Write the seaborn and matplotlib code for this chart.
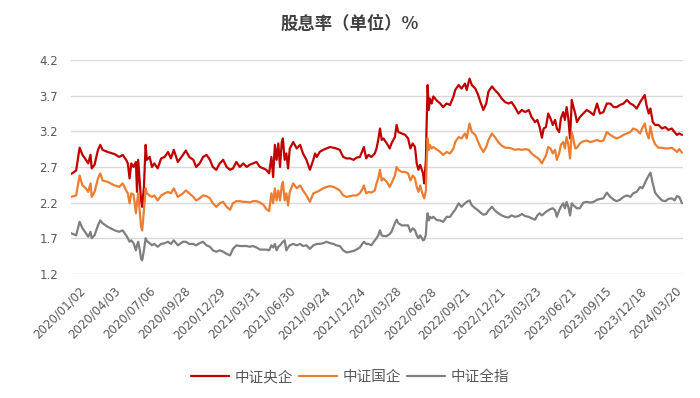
import numpy as np
import pandas as pd
import matplotlib
matplotlib.use('Agg')
import matplotlib.pyplot as plt
from matplotlib.transforms import ScaledTranslation
import seaborn as sns

# trading-day index of each sampled point (0 = 2020/01/02)
day = [0, 9, 15, 20, 26, 30, 34, 36, 41, 47, 51, 55, 64, 76, 84, 90, 96, 99, 102, 105,
       109, 113, 115, 117, 120, 122, 124, 127, 130, 132, 137, 141, 145, 151, 157, 163, 169, 174, 179, 186,
       195, 200, 206,
       213, 218, 224, 230, 236, 242, 247, 253, 259, 265, 271, 277, 282, 288, 294, 300, 306, 311, 317, 323,
       329, 335, 340, 345, 349, 352, 355, 358, 361, 364, 367, 369, 372, 375, 378, 381, 387, 393, 399, 404,
       410,
       416, 422, 425, 428, 433, 439, 445, 451, 457, 462, 468, 474, 480, 486, 492, 497, 503, 508, 510, 514,
       518, 523, 529, 532, 535, 538, 541, 544, 550, 555, 558, 564, 567, 570, 576, 582, 587, 591, 595, 599,
       602, 605, 608, 611, 613, 615, 618, 619, 621, 623, 625, 628, 631, 636, 640,
       643, 648, 654, 660, 666, 669, 675, 680, 686, 689, 694, 698, 704, 709, 713, 718, 723, 727, 733, 738,
       744, 750, 756, 762, 767, 773, 779, 785, 791, 797, 802, 808, 812, 816, 820, 823, 827, 831, 835, 839,
       843, 846, 850, 853, 857, 860, 863, 866, 869, 872, 875, 878, 881, 886, 892, 898, 904, 910, 916, 921,
       927, 933, 939, 945, 950, 956, 962, 968, 974, 979, 985, 991, 995, 999, 1002, 1006, 1009, 1013, 1017, 1023,
       1029, 1035, 1040, 1046, 1051, 1055, 1059, 1064]

yangqi = [2.60, 2.65, 2.97, 2.87, 2.80, 2.75, 2.87, 2.68, 2.73, 2.94, 3.01, 2.94, 2.91, 2.88, 2.84, 2.87, 2.80, 2.75, 2.54, 2.75,
          2.70, 2.77, 2.35, 2.80, 2.47, 2.23, 2.14, 2.42, 3.01, 2.80, 2.84, 2.70, 2.75, 2.68, 2.82, 2.84, 2.91, 2.82, 2.94, 2.77,
          2.87, 2.93, 2.84,
          2.80, 2.70, 2.75, 2.84, 2.87, 2.80, 2.70, 2.66, 2.75, 2.80, 2.70, 2.66, 2.68, 2.77, 2.70, 2.75, 2.70, 2.73, 2.75, 2.77,
          2.70, 2.68, 2.66, 2.61, 2.84, 2.56, 3.01, 2.80, 3.03, 2.70, 3.05, 3.10, 2.80, 2.89, 2.68, 2.96, 3.05, 2.96, 3.01, 2.89,
          2.80,
          2.66, 2.80, 2.89, 2.84, 2.91, 2.94, 2.96, 2.98, 2.97, 2.96, 2.94, 2.84, 2.82, 2.82, 2.80, 2.83, 2.84, 2.94, 2.98, 2.82,
          2.87, 2.84, 2.89, 2.96, 3.08, 3.24, 3.08, 3.10, 3.03, 2.96, 3.03, 3.12, 3.29, 3.19, 3.17, 3.15, 3.10, 2.96, 3.03, 2.98,
          2.75, 2.66, 2.73, 2.66, 2.61, 2.47, 2.80, 3.22, 3.85, 3.50, 3.66, 3.59, 3.69, 3.64, 3.61,
          3.59, 3.54, 3.59, 3.57, 3.69, 3.78, 3.85, 3.80, 3.87, 3.78, 3.94, 3.85, 3.80, 3.71, 3.61, 3.50, 3.59, 3.76, 3.83, 3.78,
          3.73, 3.66, 3.61, 3.59, 3.61, 3.54, 3.45, 3.50, 3.47, 3.50, 3.40, 3.33, 3.36, 3.26, 3.11, 3.24, 3.26, 3.45, 3.38, 3.29,
          3.36, 3.24, 3.19, 3.38, 3.47, 3.36, 3.54, 3.38, 3.10, 3.64, 3.54, 3.45, 3.33, 3.40, 3.45, 3.50, 3.47, 3.43, 3.59, 3.45,
          3.47, 3.59, 3.59, 3.54, 3.54, 3.57, 3.59, 3.64, 3.59, 3.57, 3.52, 3.61, 3.66, 3.71, 3.57, 3.45, 3.52, 3.33, 3.29, 3.29,
          3.24, 3.26, 3.22, 3.24, 3.19, 3.15, 3.17, 3.15]

guoqi = [2.28, 2.30, 2.58, 2.44, 2.40, 2.35, 2.47, 2.28, 2.35, 2.54, 2.61, 2.51, 2.49, 2.44, 2.42, 2.47, 2.37, 2.33, 2.19, 2.33,
         2.31, 2.05, 2.20, 2.33, 2.05, 1.86, 1.81, 2.09, 2.40, 2.33, 2.30, 2.28, 2.30, 2.23, 2.30, 2.33, 2.35, 2.33, 2.40, 2.28,
         2.33, 2.37, 2.33,
         2.28, 2.23, 2.26, 2.30, 2.29, 2.26, 2.19, 2.14, 2.19, 2.21, 2.14, 2.10, 2.19, 2.22, 2.22, 2.21, 2.21, 2.20, 2.22, 2.22,
         2.20, 2.17, 2.11, 2.08, 2.33, 2.19, 2.40, 2.23, 2.37, 2.23, 2.44, 2.49, 2.23, 2.33, 2.16, 2.35, 2.47, 2.40, 2.44, 2.37,
         2.30,
         2.21, 2.33, 2.34, 2.35, 2.37, 2.40, 2.42, 2.43, 2.42, 2.40, 2.37, 2.30, 2.28, 2.29, 2.30, 2.30, 2.33, 2.40, 2.44, 2.33,
         2.35, 2.34, 2.37, 2.47, 2.54, 2.66, 2.51, 2.54, 2.49, 2.42, 2.47, 2.58, 2.70, 2.66, 2.63, 2.63, 2.61, 2.51, 2.58, 2.54,
         2.42, 2.35, 2.44, 2.35, 2.30, 2.26, 2.37, 2.66, 3.10, 2.94, 3.01, 2.96, 2.98, 2.95, 2.93,
         2.91, 2.87, 2.91, 2.89, 2.96, 3.05, 3.12, 3.10, 3.17, 3.10, 3.31, 3.19, 3.15, 3.05, 2.98, 2.91, 2.98, 3.08, 3.17, 3.12,
         3.05, 3.00, 2.97, 2.97, 2.96, 2.94, 2.95, 2.94, 2.95, 2.94, 2.89, 2.85, 2.83, 2.80, 2.75, 2.80, 2.86, 2.98, 2.96, 2.89,
         2.94, 2.80, 2.89, 3.01, 3.05, 2.96, 3.12, 3.01, 2.82, 3.19, 3.08, 2.96, 2.97, 3.03, 3.06, 3.07, 3.05, 3.06, 3.08, 3.06,
         3.07, 3.19, 3.15, 3.12, 3.10, 3.12, 3.15, 3.17, 3.19, 3.24, 3.22, 3.17, 3.25, 3.31, 3.19, 3.10, 3.27, 3.10, 3.02, 2.97,
         2.97, 2.96, 2.96, 2.97, 2.94, 2.91, 2.95, 2.90]

quanzhi = [1.77, 1.74, 1.93, 1.84, 1.77, 1.72, 1.79, 1.70, 1.74, 1.88, 1.95, 1.91, 1.86, 1.81, 1.79, 1.81, 1.74, 1.70, 1.65, 1.67,
           1.63, 1.53, 1.60, 1.65, 1.53, 1.41, 1.39, 1.53, 1.70, 1.66, 1.63, 1.60, 1.62, 1.58, 1.62, 1.63, 1.65, 1.62, 1.67, 1.60,
           1.65, 1.65, 1.62,
           1.62, 1.60, 1.63, 1.65, 1.60, 1.58, 1.53, 1.51, 1.53, 1.51, 1.48, 1.46, 1.55, 1.60, 1.59, 1.59, 1.59, 1.58, 1.59, 1.57,
           1.54, 1.54, 1.54, 1.53, 1.60, 1.57, 1.62, 1.53, 1.58, 1.60, 1.63, 1.65, 1.67, 1.53, 1.57, 1.60, 1.62, 1.60, 1.62, 1.59,
           1.60,
           1.55, 1.60, 1.61, 1.62, 1.62, 1.63, 1.65, 1.63, 1.62, 1.60, 1.59, 1.53, 1.50, 1.51, 1.52, 1.54, 1.57, 1.63, 1.65, 1.62,
           1.62, 1.60, 1.67, 1.70, 1.74, 1.81, 1.74, 1.73, 1.73, 1.76, 1.79, 1.91, 1.96, 1.91, 1.88, 1.88, 1.88, 1.79, 1.84, 1.81,
           1.74, 1.70, 1.74, 1.70, 1.67, 1.68, 1.75, 1.91, 2.05, 1.95, 2.00, 1.98, 2.00, 1.96, 1.95,
           1.95, 1.93, 2.00, 2.00, 2.07, 2.10, 2.19, 2.14, 2.19, 2.21, 2.23, 2.16, 2.12, 2.09, 2.06, 2.03, 2.04, 2.09, 2.14, 2.09,
           2.05, 2.02, 2.00, 1.99, 2.02, 2.00, 2.01, 2.04, 2.01, 2.00, 1.98, 1.96, 2.02, 2.05, 2.02, 2.04, 2.07, 2.09, 2.11, 2.12,
           2.09, 2.00, 2.09, 2.14, 2.19, 2.12, 2.21, 2.14, 2.02, 2.19, 2.16, 2.14, 2.12, 2.12, 2.20, 2.21, 2.20, 2.21, 2.24, 2.25,
           2.26, 2.34, 2.28, 2.24, 2.22, 2.24, 2.28, 2.30, 2.28, 2.33, 2.35, 2.42, 2.40, 2.47, 2.52, 2.58, 2.62, 2.47, 2.34, 2.28,
           2.23, 2.22, 2.25, 2.26, 2.23, 2.29, 2.28, 2.19]

series_names = ['中证央企', '中证国企', '中证全指']
colors = ['#C00000', '#ED7D31', '#7F7F7F']

tick_days = [0, 61, 122, 183, 244, 305, 366, 427, 488, 549, 610, 671, 732, 793, 854, 915, 976, 1037]
tick_labels = ['2020/01/02', '2020/04/03', '2020/07/06', '2020/09/28', '2020/12/29', '2021/03/31',
               '2021/06/30', '2021/09/24', '2021/12/24', '2022/03/28', '2022/06/28', '2022/09/21',
               '2022/12/21', '2023/03/23', '2023/06/21', '2023/09/15', '2023/12/18', '2024/03/20']
n_days = 1066

df = pd.DataFrame({
    'day': day * 3,
    'value': yangqi + guoqi + quanzhi,
    'series': [series_names[0]] * len(day) + [series_names[1]] * len(day) + [series_names[2]] * len(day),
})

sns.set_style('white')
plt.rcParams['font.family'] = ['DejaVu Sans', 'Noto Sans CJK SC']

fig = plt.figure(figsize=(7, 3.98), dpi=100)
ax = fig.add_axes([0.101, 0.312, 0.875, 0.537])

sns.lineplot(data=df, x='day', y='value', hue='series', hue_order=series_names,
             palette=colors, linewidth=1.6, legend=False, errorbar=None, ax=ax)

ax.set_xlim(-0.5, n_days)
ax.set_ylim(1.2, 4.2)
ax.set_yticks(np.arange(1.2, 4.21, 0.5))
ax.set_yticklabels([f'{v:.1f}' for v in np.arange(1.2, 4.21, 0.5)])
ax.set_xticks(tick_days)
ax.set_xticklabels(tick_labels, rotation=45, ha='right', va='top', rotation_mode='anchor')
ax.yaxis.grid(True, color='#d9d9d9', linewidth=1)
ax.set_axisbelow(True)
ax.set_xlabel('')
ax.set_ylabel('')
sns.despine(ax=ax, left=True, bottom=True)
ax.tick_params(axis='both', length=0, labelcolor='#595959')
ax.tick_params(axis='y', labelsize=8.5, pad=9)
ax.tick_params(axis='x', labelsize=8.5, pad=2)
shift = ScaledTranslation(8 / 100, -8 / 100, fig.dpi_scale_trans)
for lab in ax.get_xticklabels():
    lab.set_transform(lab.get_transform() + shift)

fig.text(0.5, 1 - 23.5 / 398, '股息率（单位）%', ha='center', va='center',
         fontsize=12.5, fontweight='bold', color='#404040', family=['Noto Sans CJK SC', 'DejaVu Sans'])

handles = ax.get_lines()[:3]
leg = fig.legend(handles, series_names, loc='center', bbox_to_anchor=(0.5, 1 - 377 / 398),
                 ncol=3, frameon=False, fontsize=10.5, handlelength=2.6, handletextpad=0.4,
                 columnspacing=0.4, prop={'family': ['Noto Sans CJK SC', 'DejaVu Sans'], 'size': 10.5})
for t in leg.get_texts():
    t.set_color('#595959')

fig.savefig('out.png', dpi=100)
